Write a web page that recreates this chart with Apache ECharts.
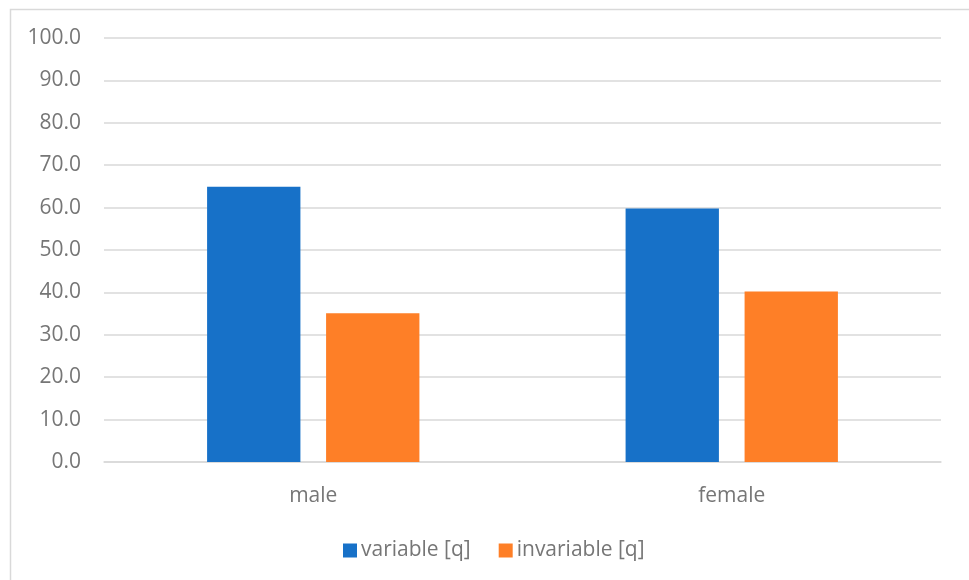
<!DOCTYPE html>
<html>
<head>
<meta charset="utf-8">
<script src="https://cdn.jsdelivr.net/npm/echarts@6/dist/echarts.min.js"></script>
<style>
  html, body { margin: 0; padding: 0; background: #ffffff; }
  #chart { width: 969px; height: 580px; }
</style>
</head>
<body>
<div id="chart"></div>
<script>
// Categories and series values
const categories = ['male', 'female'];
const variableQ = [64.9, 59.8];
const invariableQ = [35.1, 40.2];
const seriesNames = ['variable [q]', 'invariable [q]'];

// Y axis scale
const yMin = 0;
const yMax = 100;
const yStep = 10;

const textColor = '#767676';
const fontFamily = '"Open Sans", "Noto Sans", sans-serif';
const fontSize = 21;

const chart = echarts.init(document.getElementById('chart'), null, { renderer: 'canvas' });

chart.setOption({
  animation: false,
  backgroundColor: '#ffffff',
  graphic: [{
    type: 'rect',
    shape: { x: 10.5, y: 9.5, width: 980, height: 600 },
    style: { fill: 'none', stroke: '#d9d9d9', lineWidth: 1.5 },
    silent: true
  }],
  grid: { left: 104, right: 28, top: 38, bottom: 118, containLabel: false },
  legend: {
    data: seriesNames,
    left: 338,
    top: 535,
    itemWidth: 14,
    itemHeight: 14,
    itemGap: 28,
    icon: 'rect',
    textStyle: { color: textColor, fontSize: fontSize, fontFamily: fontFamily, padding: [0, 0, 0, -1] }
  },
  xAxis: {
    type: 'category',
    data: categories,
    axisLine: { show: true, lineStyle: { color: '#d9d9d9', width: 1.5 } },
    axisTick: { show: false },
    axisLabel: { color: textColor, fontSize: fontSize, fontFamily: fontFamily, margin: 24 }
  },
  yAxis: {
    type: 'value',
    min: yMin,
    max: yMax,
    interval: yStep,
    axisLine: { show: false },
    axisTick: { show: false },
    splitLine: { lineStyle: { color: '#d9d9d9', width: 1.5 } },
    axisLabel: {
      color: textColor, fontSize: fontSize, fontFamily: fontFamily, margin: 23,
      formatter: v => v.toFixed(1)
    }
  },
  series: [
    {
      name: seriesNames[0],
      type: 'bar',
      data: variableQ,
      barWidth: '22.3%',
      barGap: '27.5%',
      itemStyle: { color: '#1771c8' }
    },
    {
      name: seriesNames[1],
      type: 'bar',
      data: invariableQ,
      barWidth: '22.3%',
      barGap: '27.5%',
      itemStyle: { color: '#fe7f27' }
    }
  ]
});
</script>
</body>
</html>
